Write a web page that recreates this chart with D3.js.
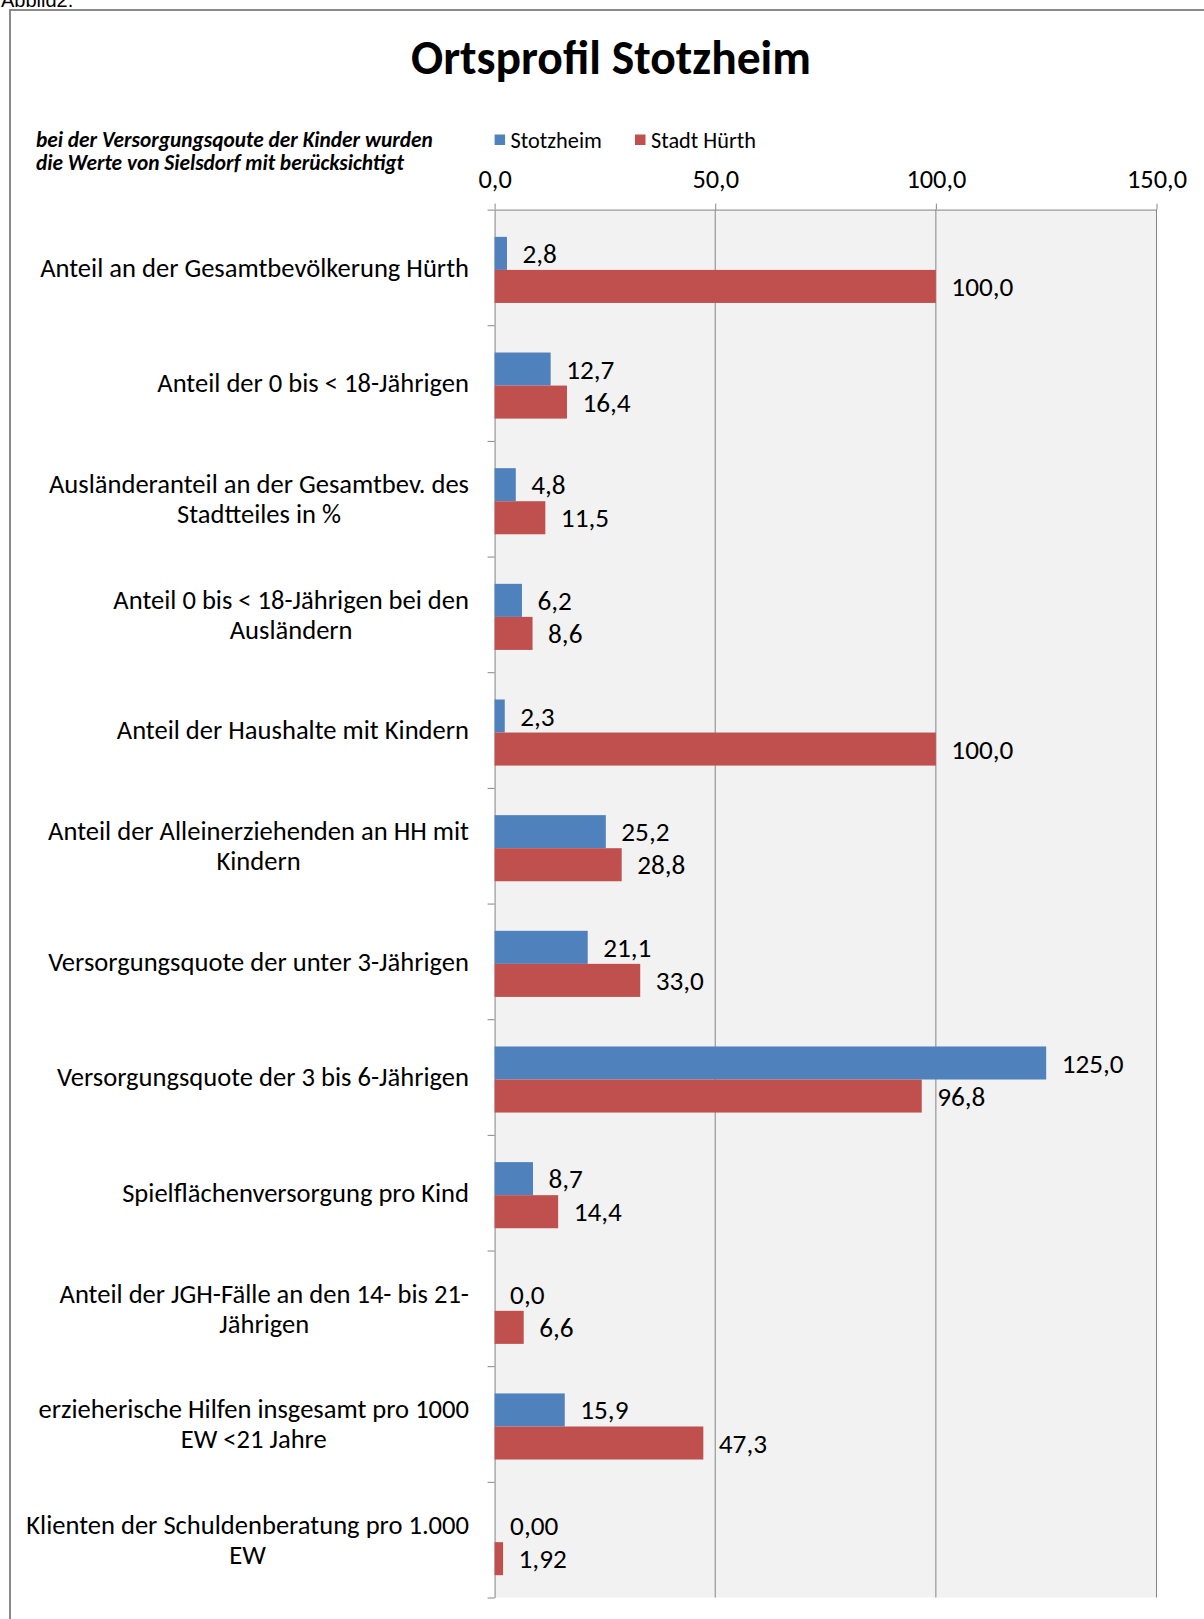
<!DOCTYPE html>
<html><head><meta charset="utf-8">
<script src="https://cdn.jsdelivr.net/npm/d3@7"></script>
<style>body{margin:0;background:#fff;overflow:hidden} svg{display:block}</style>
</head><body>
<svg id="c" width="1204" height="1619"></svg>
<script>
// ---------- data ----------
const categories = [
  "Anteil an der Gesamtbevölkerung Hürth",
  "Anteil der 0 bis < 18-Jährigen",
  "Ausländeranteil an der Gesamtbev. des\nStadtteiles in %",
  "Anteil 0 bis < 18-Jährigen bei den\nAusländern",
  "Anteil der Haushalte mit Kindern",
  "Anteil der Alleinerziehenden an HH mit\nKindern",
  "Versorgungsquote der unter 3-Jährigen",
  "Versorgungsquote der 3 bis 6-Jährigen",
  "Spielflächenversorgung pro Kind",
  "Anteil der JGH-Fälle an den 14- bis 21-\nJährigen",
  "erzieherische Hilfen insgesamt pro 1000\nEW <21 Jahre",
  "Klienten der Schuldenberatung pro 1.000\nEW"
];
const stotzheim = [2.8, 12.7, 4.8, 6.2, 2.3, 25.2, 21.1, 125.0, 8.7, 0.0, 15.9, 0.00];
const stadtHuerth = [100.0, 16.4, 11.5, 8.6, 100.0, 28.8, 33.0, 96.8, 14.4, 6.6, 47.3, 1.92];
const decimals = [1, 1, 1, 1, 1, 1, 1, 1, 1, 1, 1, 2];
const seriesNames = ["Stotzheim", "Stadt Hürth"];
const xTicks = [0, 50, 100, 150];
const titleText = "Ortsprofil Stotzheim";
const noteLines = ["bei der Versorgungsqoute der Kinder wurden", "die Werte von Sielsdorf mit berücksichtigt"];
const captionText = "Abbild2.";

// ---------- layout / style ----------
const W = 1204, H = 1619;
const FAMILY = "Carlito, Calibri, Lato, 'Open Sans', sans-serif";
const colors = ["#4f81bd", "#c0504d"];
const plot = {left: 494.6, right: 1156.5, top: 209.6, bottom: 1597.5};
const svg = d3.select("#c");

function fit(str, weight, style, target) {
  const t = svg.append("text").attr("font-family", FAMILY).attr("font-weight", weight)
    .attr("font-style", style).attr("font-size", 100).text(str);
  const w = t.node().getComputedTextLength();
  t.remove();
  return 100 * target / w;
}
const fsCat = fit("Anteil an der Gesamtbevölkerung Hürth", "normal", "normal", 429);
const fsVal = fit("100,0", "normal", "normal", 62);
const fsTick = fit("150,0", "normal", "normal", 60);
const fsTitle = fit(titleText, "bold", "normal", 400);
const fsNote = fit(noteLines[0], "bold", "italic", 397);
const fsLeg = fit("Stadt Hürth", "normal", "normal", 105);

const fmt = (v, d) => v.toFixed(d).replace(".", ",");

// caption, clipped at top edge as in the original
svg.append("text").attr("x", 1).attr("y", 7).attr("font-family", "Arial, 'Liberation Sans'")
  .attr("font-size", 20).attr("fill", "#000").text(captionText);

// chart frame (extends past right & bottom)
svg.append("path").attr("d", `M10,${H + 5}L10,10L${W + 5},10`).attr("fill", "none")
  .attr("stroke", "#8a8a8a").attr("stroke-width", 2);

// title
svg.append("text").attr("x", 611).attr("y", 74).attr("text-anchor", "middle")
  .attr("font-family", FAMILY).attr("font-weight", "bold").attr("font-size", fsTitle)
  .attr("fill", "#000").text(titleText);

// note
svg.append("g").selectAll("text").data(noteLines).join("text")
  .attr("x", 36).attr("y", (d, i) => 147 + i * 23)
  .attr("font-family", FAMILY).attr("font-weight", "bold").attr("font-style", "italic")
  .attr("font-size", fsNote).attr("fill", "#000").text(d => d);

// scales
const x = d3.scaleLinear().domain([0, 150]).range([plot.left, plot.right]);
const y = d3.scaleBand().domain(categories).range([plot.top, plot.bottom]).padding(0);
const ySub = d3.scaleBand().domain(seriesNames).range([0, y.bandwidth()])
  .paddingInner(0).paddingOuter(0.75).align(0.55);
const yEdge = d3.scaleLinear().domain([0, categories.length]).range([plot.top, plot.bottom]);

// legend
const leg = svg.append("g");
const legX = [494.6, 635];
seriesNames.forEach((s, i) => {
  leg.append("rect").attr("x", legX[i]).attr("y", 134.5).attr("width", 10.5).attr("height", 10.5).attr("fill", colors[i]);
  leg.append("text").attr("x", legX[i] + 16).attr("y", 147.5).attr("font-family", FAMILY)
    .attr("font-size", fsLeg).attr("fill", "#000").text(s);
});

// plot background
svg.append("rect").attr("x", x(0)).attr("y", plot.top).attr("width", x(150) - x(0))
  .attr("height", plot.bottom - plot.top).attr("fill", "#f2f2f2");

// gridlines
svg.append("g").selectAll("line").data(xTicks.filter(d => d > 0)).join("line")
  .attr("x1", d => x(d)).attr("x2", d => x(d)).attr("y1", plot.top).attr("y2", plot.bottom)
  .attr("stroke", "#868686").attr("stroke-width", 1);

// top value axis
const gx = svg.append("g").attr("transform", `translate(0,${plot.top})`)
  .call(d3.axisTop(x).tickValues(xTicks).tickSize(6).tickSizeOuter(0).tickPadding(16).tickFormat(d => fmt(d, 1)));
gx.select(".domain").attr("stroke", "#868686");
gx.selectAll(".tick line").attr("stroke", "#868686");
gx.selectAll(".tick text").attr("font-family", FAMILY).attr("font-size", fsTick).attr("fill", "#000");

// left category axis (ticks at band edges)
const gy = svg.append("g").attr("transform", `translate(${x(0)},0)`)
  .call(d3.axisLeft(yEdge).ticks(categories.length).tickSize(7).tickSizeOuter(0).tickFormat(""));
gy.select(".domain").attr("stroke", "#868686");
gy.selectAll(".tick line").attr("stroke", "#868686");

// bars
const rows = categories.map((c, i) => ({c, i, vals: [stotzheim[i], stadtHuerth[i]]}));
const gRow = svg.append("g").selectAll("g").data(rows).join("g")
  .attr("transform", d => `translate(0,${y(d.c)})`);
gRow.selectAll("rect").data(d => d.vals.map((v, k) => ({v, k, name: seriesNames[k]}))).join("rect")
  .attr("x", x(0)).attr("y", d => ySub(d.name)).attr("width", d => x(d.v) - x(0))
  .attr("height", ySub.bandwidth()).attr("fill", d => colors[d.k]);
gRow.selectAll("text.val").data(d => d.vals.map((v, k) => ({v, k, name: seriesNames[k], dec: decimals[d.i]}))).join("text")
  .attr("class", "val")
  .attr("x", d => x(d.v) + 15.5).attr("y", d => ySub(d.name) + ySub.bandwidth() / 2)
  .attr("dy", "0.35em").attr("font-family", FAMILY).attr("font-size", fsVal).attr("fill", "#000")
  .text(d => fmt(d.v, d.dec));

// category labels
const labelRight = 469;
const lineH = 30;
rows.forEach(r => {
  const ls = r.c.split("\n");
  const g = svg.append("g");
  const texts = ls.map((l, j) => g.append("text").attr("font-family", FAMILY).attr("font-size", fsCat)
    .attr("fill", "#000").attr("text-anchor", "middle").attr("dy", "0.35em").text(l));
  const maxW = d3.max(texts, t => t.node().getComputedTextLength());
  const cy = y(r.c) + y.bandwidth() / 2;
  texts.forEach((t, j) => t.attr("x", labelRight - maxW / 2).attr("y", cy + (j - (ls.length - 1) / 2) * lineH));
});
</script>
</body></html>
